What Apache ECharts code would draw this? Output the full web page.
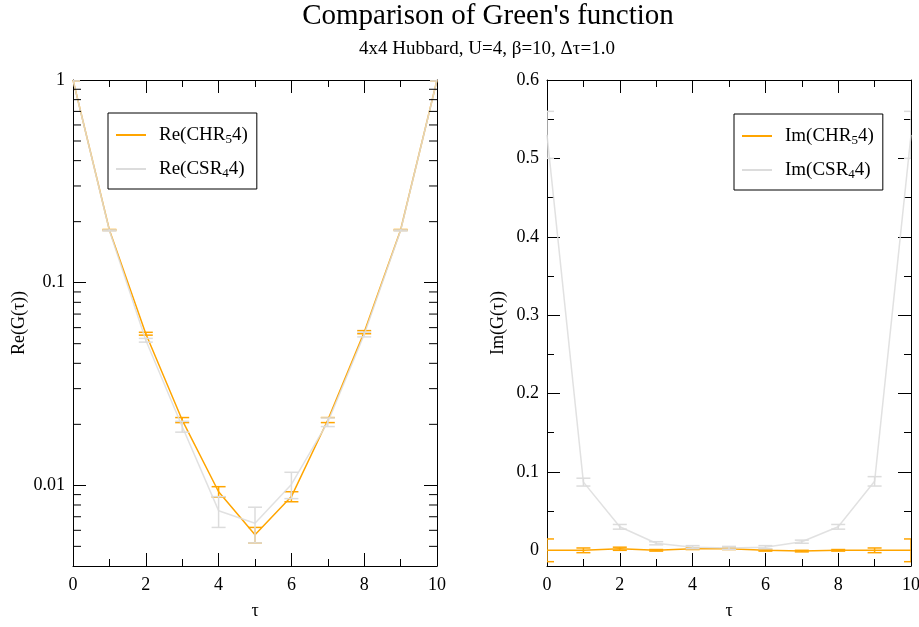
<!DOCTYPE html>
<html>
<head>
<meta charset="utf-8">
<script src="https://cdn.jsdelivr.net/npm/echarts@6/dist/echarts.min.js"></script>
<style>
html,body{margin:0;padding:0;background:#fff;}
#chart{width:919px;height:627px;}
</style>
</head>
<body>
<div id="chart"></div>
<script>
// ---- data ----
const tau = [0, 1, 2, 3, 4, 5, 6, 7, 8, 9, 10];
const reCHR    = [1.0, 0.182, 0.056, 0.021, 0.0093, 0.0057, 0.0088, 0.021, 0.057, 0.182, 1.0];
const reCHRerr = [0.01, 0.001, 0.0009, 0.0006, 0.00055, 0.0005, 0.0005, 0.0006, 0.001, 0.001, 0.01];
const reCSR    = [1.0, 0.181, 0.052, 0.0195, 0.0075, 0.0065, 0.0101, 0.0205, 0.0555, 0.181, 1.0];
const reCSRerr = [0.01, 0.001, 0.0011, 0.0012, 0.0013, 0.0013, 0.0015, 0.001, 0.0015, 0.001, 0.01];
const imCHR    = [0.0, 0.0, 0.002, 0.0, 0.002, 0.002, 0.0, -0.001, 0.0, 0.0, 0.0];
const imCHRerr = [0.0145, 0.003, 0.002, 0.001, 0.001, 0.001, 0.001, 0.001, 0.001, 0.003, 0.0145];
const imCSR    = [0.53, 0.087, 0.030, 0.009, 0.004, 0.003, 0.004, 0.011, 0.030, 0.088, 0.53];
const imCSRerr = [0.03, 0.005, 0.003, 0.002, 0.002, 0.002, 0.002, 0.002, 0.003, 0.006, 0.03];
const reMinorTicks = [0.005, 0.006, 0.007, 0.008, 0.009, 0.02, 0.03, 0.04, 0.05, 0.06, 0.07, 0.08, 0.09, 0.2, 0.3, 0.4, 0.5, 0.6, 0.7, 0.8, 0.9];
const names = { reCHR: 'Re(CHR54)', reCSR: 'Re(CSR44)', imCHR: 'Im(CHR54)', imCSR: 'Im(CSR44)' };
const legendRich = {
  'Re(CHR54)': '{p|}{n|Re(CHR}{s|5}{n|4)}',
  'Re(CSR44)': '{p|}{n|Re(CSR}{s|4}{n|4)}',
  'Im(CHR54)': '{p|}{n|Im(CHR}{s|5}{n|4)}',
  'Im(CSR44)': '{p|}{n|Im(CSR}{s|4}{n|4)}'
};

const FONT = 'Liberation Serif';
const ORANGE = '#FFA500';
const GRAY = '#DCDCDC';

function pairs(xs, ys) { return xs.map((x, i) => [x, ys[i]]); }
function triples(xs, ys, es) { return xs.map((x, i) => [x, ys[i], es[i]]); }

function errRender(params, api) {
  const x = api.value(0), y = api.value(1), e = api.value(2);
  const lo = api.coord([x, y - e]);
  const hi = api.coord([x, y + e]);
  const w = 7;
  const style = { stroke: api.visual('color'), lineWidth: 1.5 };
  return {
    type: 'group',
    children: [
      { type: 'line', shape: { x1: lo[0], y1: lo[1], x2: hi[0], y2: hi[1] }, style },
      { type: 'line', shape: { x1: lo[0] - w, y1: lo[1], x2: lo[0] + w, y2: lo[1] }, style },
      { type: 'line', shape: { x1: hi[0] - w, y1: hi[1], x2: hi[0] + w, y2: hi[1] }, style }
    ]
  };
}

function minorTickRender(params, api) {
  const v = api.value(1);
  const L = api.coord([tau[0], v]);
  const R = api.coord([tau[tau.length - 1], v]);
  const len = 8;
  const style = { stroke: '#000', lineWidth: 1 };
  return {
    type: 'group',
    children: [
      { type: 'line', shape: { x1: L[0], y1: L[1], x2: L[0] + len, y2: L[1] }, style },
      { type: 'line', shape: { x1: R[0] - len, y1: R[1], x2: R[0], y2: R[1] }, style }
    ]
  };
}

const axisLine = { show: true, onZero: false, lineStyle: { color: '#000', width: 1 } };
const tickMajor = { show: true, inside: true, length: 13, lineStyle: { color: '#000', width: 1 } };
const tickMinor = { show: true, splitNumber: 2, length: 7, lineStyle: { color: '#000', width: 1 } };
const labelStyle = { color: '#000', fontFamily: FONT, fontSize: 18 };

function xAxes(gridIndex) {
  return [
    { type: 'value', gridIndex, min: 0, max: 10, interval: 2, position: 'bottom',
      axisLine, axisTick: tickMajor, minorTick: tickMinor, splitLine: { show: false },
      axisLabel: Object.assign({ margin: 10 }, labelStyle),
      name: 'τ', nameLocation: 'middle', nameGap: 36,
      nameTextStyle: { color: '#000', fontFamily: FONT, fontSize: 18 } },
    { type: 'value', gridIndex, min: 0, max: 10, interval: 2, position: 'top',
      axisLine, axisTick: tickMajor, minorTick: tickMinor, splitLine: { show: false },
      axisLabel: { show: false } }
  ];
}

const legendText = {
  color: '#000', fontFamily: FONT, fontSize: 19,
  rich: {
    p: { width: 8 },
    n: { fontFamily: FONT, fontSize: 19, lineHeight: 22, color: '#000' },
    s: { fontFamily: FONT, fontSize: 13, lineHeight: 13, verticalAlign: 'bottom', padding: [13, 0, 0, 0], color: '#000' }
  }
};

const option = {
  backgroundColor: '#fff',
  animation: false,
  title: [
    { text: "Comparison of Green's function", left: 483, top: -3, textAlign: 'center',
      textStyle: { fontFamily: FONT, fontSize: 29, fontWeight: 'normal', color: '#000' } },
    { text: '4x4 Hubbard, U=4, β=10, Δτ=1.0', left: 482, top: 35, textAlign: 'center',
      textStyle: { fontFamily: FONT, fontSize: 19, fontWeight: 'normal', color: '#000' } }
  ],
  grid: [
    { left: 73, right: 482, top: 80, bottom: 61, outerBoundsMode: 'none', containLabel: false },
    { left: 547, right: 8, top: 80, bottom: 61, outerBoundsMode: 'none', containLabel: false }
  ],
  xAxis: [].concat(xAxes(0), xAxes(1)),
  yAxis: [
    { type: 'log', logBase: 10, gridIndex: 0, min: 0.004, max: 1, position: 'left',
      axisLine, axisTick: tickMajor, splitLine: { show: false },
      axisLabel: Object.assign({ margin: 8, showMinLabel: false }, labelStyle),
      name: 'Re(G(τ))', nameLocation: 'middle', nameGap: 45, nameRotate: 90,
      nameTextStyle: { color: '#000', fontFamily: FONT, fontSize: 18 } },
    { type: 'log', logBase: 10, gridIndex: 0, min: 0.004, max: 1, position: 'right',
      axisLine, axisTick: tickMajor, splitLine: { show: false }, axisLabel: { show: false } },
    { type: 'value', gridIndex: 1, min: -0.02, max: 0.6, position: 'left',
      axisLine, axisTick: tickMajor, minorTick: tickMinor, splitLine: { show: false },
      axisLabel: Object.assign({ margin: 8, showMinLabel: false }, labelStyle),
      name: 'Im(G(τ))', nameLocation: 'middle', nameGap: 40, nameRotate: 90,
      nameTextStyle: { color: '#000', fontFamily: FONT, fontSize: 18 } },
    { type: 'value', gridIndex: 1, min: -0.02, max: 0.6, position: 'right',
      axisLine, axisTick: tickMajor, minorTick: tickMinor, splitLine: { show: false },
      axisLabel: { show: false } }
  ],
  legend: [
    { data: [names.reCHR, names.reCSR], orient: 'vertical', left: 108, top: 113,
      padding: [7, 9, 9, 8], itemGap: 8, itemWidth: 30, itemHeight: 2, icon: 'rect',
      borderColor: '#000', borderWidth: 1, borderRadius: 0, backgroundColor: '#fff',
      formatter: n => legendRich[n], textStyle: legendText },
    { data: [names.imCHR, names.imCSR], orient: 'vertical', left: 734, top: 114,
      padding: [7, 9, 9, 8], itemGap: 8, itemWidth: 30, itemHeight: 2, icon: 'rect',
      borderColor: '#000', borderWidth: 1, borderRadius: 0, backgroundColor: '#fff',
      formatter: n => legendRich[n], textStyle: legendText }
  ],
  series: [
    { type: 'custom', name: 'reMinor', xAxisIndex: 0, yAxisIndex: 0, renderItem: minorTickRender,
      data: reMinorTicks.map(v => [5, v]), silent: true, z: 5 },
    // left: real part
    { type: 'line', name: names.reCHR, xAxisIndex: 0, yAxisIndex: 0, data: pairs(tau, reCHR),
      showSymbol: false, symbol: 'none', color: ORANGE, lineStyle: { color: ORANGE, width: 1.5 }, z: 2 },
    { type: 'custom', name: names.reCHR, xAxisIndex: 0, yAxisIndex: 0, renderItem: errRender, clip: true,
      data: triples(tau, reCHR, reCHRerr), color: ORANGE, z: 2 },
    { type: 'line', name: names.reCSR, xAxisIndex: 0, yAxisIndex: 0, data: pairs(tau, reCSR),
      showSymbol: false, symbol: 'none', color: GRAY, lineStyle: { color: GRAY, width: 1.5, opacity: 0.85 }, z: 3 },
    { type: 'custom', name: names.reCSR, xAxisIndex: 0, yAxisIndex: 0, renderItem: errRender, clip: true,
      data: triples(tau, reCSR, reCSRerr), color: GRAY, z: 3 },
    // right: imaginary part
    { type: 'line', name: names.imCHR, xAxisIndex: 2, yAxisIndex: 2, data: pairs(tau, imCHR),
      showSymbol: false, symbol: 'none', color: ORANGE, lineStyle: { color: ORANGE, width: 1.5 }, z: 2 },
    { type: 'custom', name: names.imCHR, xAxisIndex: 2, yAxisIndex: 2, renderItem: errRender, clip: true,
      data: triples(tau, imCHR, imCHRerr), color: ORANGE, z: 2 },
    { type: 'line', name: names.imCSR, xAxisIndex: 2, yAxisIndex: 2, data: pairs(tau, imCSR),
      showSymbol: false, symbol: 'none', color: GRAY, lineStyle: { color: GRAY, width: 1.5, opacity: 0.85 }, z: 3 },
    { type: 'custom', name: names.imCSR, xAxisIndex: 2, yAxisIndex: 2, renderItem: errRender, clip: true,
      data: triples(tau, imCSR, imCSRerr), color: GRAY, z: 3 }
  ]
};

const chart = echarts.init(document.getElementById('chart'), null, { renderer: 'canvas' });
chart.setOption(option);
</script>
</body>
</html>
